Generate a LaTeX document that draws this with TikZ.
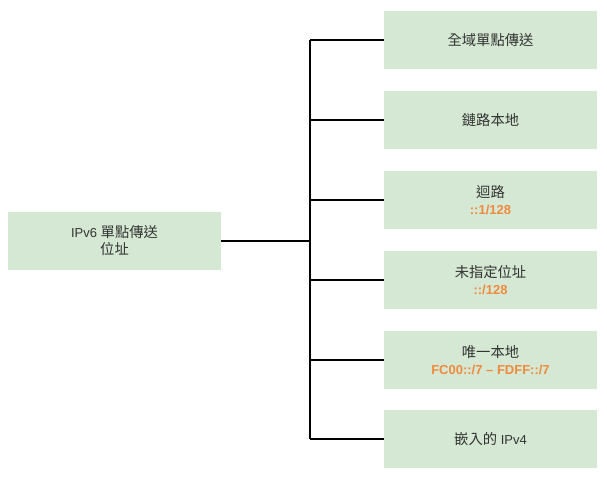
\documentclass[tikz,border=0pt]{standalone}
\usepackage{fontspec}
\setmainfont{Liberation Sans}
\newfontfamily\cjk[Scale=1.1]{Noto Sans CJK TC}
\usetikzlibrary{positioning}
\definecolor{boxgreen}{HTML}{D5E8D4}
\definecolor{addrorange}{HTML}{F08A3C}
\newcommand{\addr}[1]{{\color{addrorange}\bfseries #1}}

\begin{document}
\begin{tikzpicture}[x=1pt,y=-1pt,
  leaf/.style={fill=boxgreen,minimum width=213pt,minimum height=58pt,inner sep=0pt,
    align=center,text=black!80,font=\fontsize{13}{17}\selectfont},
  link/.style={line width=2pt,black}]
\useasboundingbox (0,0) rectangle (607,478);

\node[leaf] (root) at (114.5,241) {IPv6 {\cjk 單點傳送}\\{\cjk 位址}};

\node[leaf] (g1) at (490.5,40) {\cjk 全域單點傳送};
\node[leaf] (g2) at (490.5,120) {\cjk 鏈路本地};
\node[leaf] (g3) at (490.5,200) {{\cjk 迴路}\\\addr{::1/128}};
\node[leaf] (g4) at (490.5,280) {{\cjk 未指定位址}\\\addr{::/128}};
\node[leaf] (g5) at (490.5,360) {{\cjk 唯一本地}\\\addr{FC00::/7 -- FDFF::/7}};
\node[leaf] (g6) at (490.5,439) {{\cjk 嵌入的} IPv4};

\coordinate (trunk) at (310,241);

\draw[link] (root.east) -- (trunk);
\draw[link] (trunk |- g1.west) -- (trunk |- g6.west);
\draw[link] (trunk |- g1.west) -- (g1.west);
\draw[link] (trunk |- g2.west) -- (g2.west);
\draw[link] (trunk |- g3.west) -- (g3.west);
\draw[link] (trunk |- g4.west) -- (g4.west);
\draw[link] (trunk |- g5.west) -- (g5.west);
\draw[link] (trunk |- g6.west) -- (g6.west);

\end{tikzpicture}
\end{document}
